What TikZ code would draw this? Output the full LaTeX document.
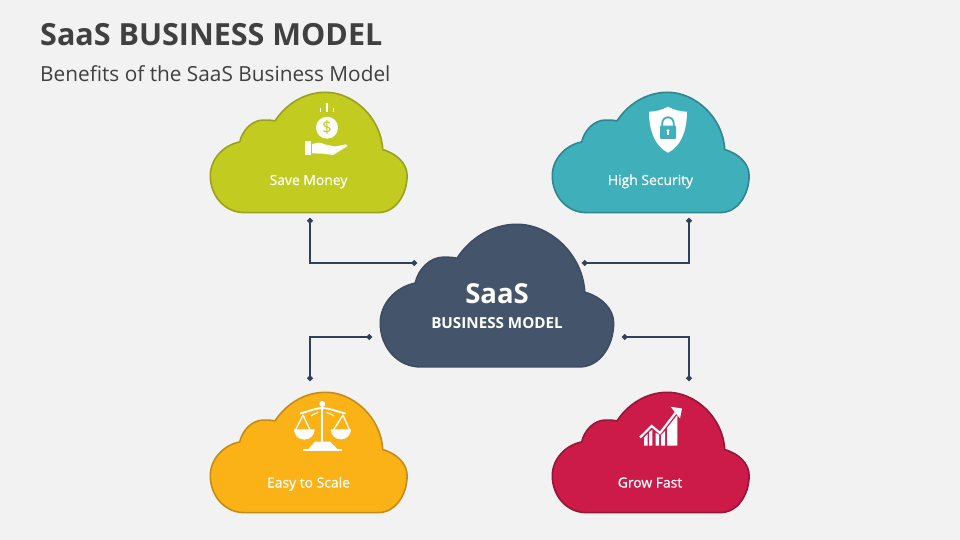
\documentclass[tikz,border=0pt]{standalone}
\usepackage{fontspec}
\setmainfont{Open Sans}
\newfontfamily\labelfont[FakeBold=0.9]{Open Sans}
\usetikzlibrary{arrows.meta}
\definecolor{bgc}{HTML}{F2F2F2}
\definecolor{inkc}{HTML}{404040}
\definecolor{linkc}{HTML}{2F4058}
\definecolor{darkf}{HTML}{44546A}
\definecolor{darks}{HTML}{3D4C60}
\definecolor{greenf}{HTML}{C2CB20}
\definecolor{greens}{HTML}{9AA11F}
\definecolor{tealf}{HTML}{3FAFB9}
\definecolor{teals}{HTML}{2F8690}
\definecolor{amberf}{HTML}{FBB216}
\definecolor{ambers}{HTML}{C48C17}
\definecolor{redf}{HTML}{CC1A49}
\definecolor{reds}{HTML}{951637}
\newcommand{\cloudat}[5]{%
  \begin{scope}[shift={(#1,#2)},xscale=#3,yscale=#3]
    \draw[#4,draw=#5,line width=1.6pt,line join=round]
      (40,143) -- (200,143)
      .. controls (220,143) and (234,122) .. (234,99)
      .. controls (234,85) and (222,73) .. (205,68)
      .. controls (203,30) and (170,0) .. (137,0)
      .. controls (112,0) and (90,14) .. (77,34)
      .. controls (72,33) and (68,33) .. (63,33)
      .. controls (50,33) and (38,45) .. (35,59)
      .. controls (15,63) and (0,80) .. (0,99)
      .. controls (0,124) and (18,143) .. (40,143) -- cycle;
  \end{scope}}
\tikzset{
  x=1pt,y=-1pt,
  link/.style={draw=linkc,line width=1.6pt,{Circle[length=5.5pt,width=5.5pt]}-{Circle[length=5.5pt,width=5.5pt]}},
  cloudlabel/.style={text=white,font=\labelfont\fontsize{13.9}{16}\selectfont,anchor=base,inner sep=0pt}
}
\begin{document}
\begin{tikzpicture}
\useasboundingbox (0,0) rectangle (960,540);
\fill[bgc] (0,0) rectangle (960,540);
\node[anchor=west,inner sep=0pt,text=inkc,font=\bfseries\fontsize{30.5}{36}\selectfont] (title) at (40,35) {SaaS BUSINESS MODEL};
\node[anchor=west,inner sep=0pt,text=inkc,font=\fontsize{20.8}{24}\selectfont] (subtitle) at (40,73.5) {Benefits of the SaaS Business Model};

\cloudat{210.3}{92.3}{0.841}{fill=greenf}{greens}
\cloudat{552.3}{92.3}{0.841}{fill=tealf}{teals}
\cloudat{210.3}{392.3}{0.841}{fill=amberf}{ambers}
\cloudat{552.3}{392.3}{0.841}{fill=redf}{reds}
\cloudat{380.3}{224.3}{0.997}{fill=darkf}{darks}

\coordinate (a1) at (310,218); \coordinate (a2) at (417,263);
\coordinate (b1) at (689,218); \coordinate (b2) at (582,263);
\coordinate (c1) at (310,381); \coordinate (c2) at (372,337);
\coordinate (d1) at (689,381); \coordinate (d2) at (622,337);
\draw[link] (a1) |- (a2);
\draw[link] (b1) |- (b2);
\draw[link] (c1) |- (c2);
\draw[link] (d1) |- (d2);

\node[text=white,inner sep=0pt,font=\bfseries\fontsize{27.5}{32}\selectfont] (saas) at (497,293.5) {SaaS};
\node[text=white,inner sep=0pt,font=\bfseries\fontsize{15.2}{18}\selectfont] (bm) at (497,323) {BUSINESS MODEL};
\node[cloudlabel] (save) at (308.5,185) {Save Money};
\node[cloudlabel] (high) at (650.5,185) {High Security};
\node[cloudlabel] (easy) at (308.5,487.5) {Easy to Scale};
\node[cloudlabel] (grow) at (650,487.5) {Grow Fast};

% money icon
\fill[white] (327,127.7) circle (11);
\node[text=greenf,inner sep=0pt,font=\fontsize{17}{18}\selectfont] (dollar) at (327,127.5) {\$};
\draw[white,line width=1.2pt] (320.5,108) -- (320.5,112) (327,103.5) -- (327,112) (333.7,108) -- (333.7,112);
\fill[white] (305.3,141) rectangle (310.7,155);
\fill[white] (312,144.5) .. controls (317,142) and (320,142) .. (325,144.5) -- (335,146.5)
  -- (346,144.3) -- (347.7,146) -- (333,155) -- (323,153.7) -- (312,153.3) -- cycle;

% shield icon
\fill[white] (668,106.7) .. controls (662,110) and (656,111.5) .. (649,111.7)
  .. controls (649,132) and (656,147) .. (668,152.7)
  .. controls (680,147) and (687,132) .. (687,111.7)
  .. controls (680,111.5) and (674,110) .. (668,106.7) -- cycle;
\fill[tealf,rounded corners=1pt] (660,125.7) rectangle (676,139);
\draw[tealf,line width=1.8pt] (662.3,126) -- (662.3,123) arc[start angle=180,end angle=360,radius=5.7] -- (673.7,126);
\fill[white] (668,130.7) circle (1.6);
\fill[white] (667.2,131) rectangle (668.8,135.3);

% scales icon
\fill[white] (322.3,404) circle (3);
\fill[white] (321.2,405) rectangle (323.4,446);
\draw[white,line width=1.8pt] (300,413.5) .. controls (310,411) and (316,408) .. (322.3,408) .. controls (329,408) and (335,411) .. (345.7,413.5);
\draw[white,line width=1.1pt] (311,416) .. controls (314,414) and (316,413) .. (318,412.5) (326.5,412.5) .. controls (329,413) and (331,414) .. (334,416);
\draw[white,line width=1.3pt,line join=round] (295.5,430) -- (303,415) -- (310,430);
\draw[white,line width=1.3pt,line join=round] (333.5,430) -- (343,415) -- (349.5,430);
\fill[white] (294,429.3) -- (314.7,429.3) arc[start angle=0,end angle=180,radius=10.35] -- cycle;
\fill[white] (330.7,429.3) -- (351,429.3) arc[start angle=0,end angle=180,radius=10.15] -- cycle;
\fill[white] (308.5,449) -- (315,441.7) -- (330,441.7) -- (337.5,449) -- cycle;
\fill[white] (303,449) rectangle (342,451);

% growth icon
\fill[white] (644,437.5) -- (647.7,434) -- (647.7,445.7) -- (644,445.7) -- cycle;
\fill[white] (649,432) -- (652.3,430) -- (652.3,445.7) -- (649,445.7) -- cycle;
\fill[white] (655.7,433) -- (659,434.5) -- (659,445.7) -- (655.7,445.7) -- cycle;
\fill[white] (661,435) -- (665,431) -- (665,445.7) -- (661,445.7) -- cycle;
\fill[white] (667,428) -- (677.3,415) -- (677.3,445.7) -- (667,445.7) -- cycle;
\draw[white,line width=2.2pt,line join=miter] (640,437.5) -- (651.7,426) -- (660,433) -- (677,411);
\fill[white] (670.5,406.7) -- (682,408.5) -- (680,418.5) -- cycle;
\end{tikzpicture}
\end{document}
